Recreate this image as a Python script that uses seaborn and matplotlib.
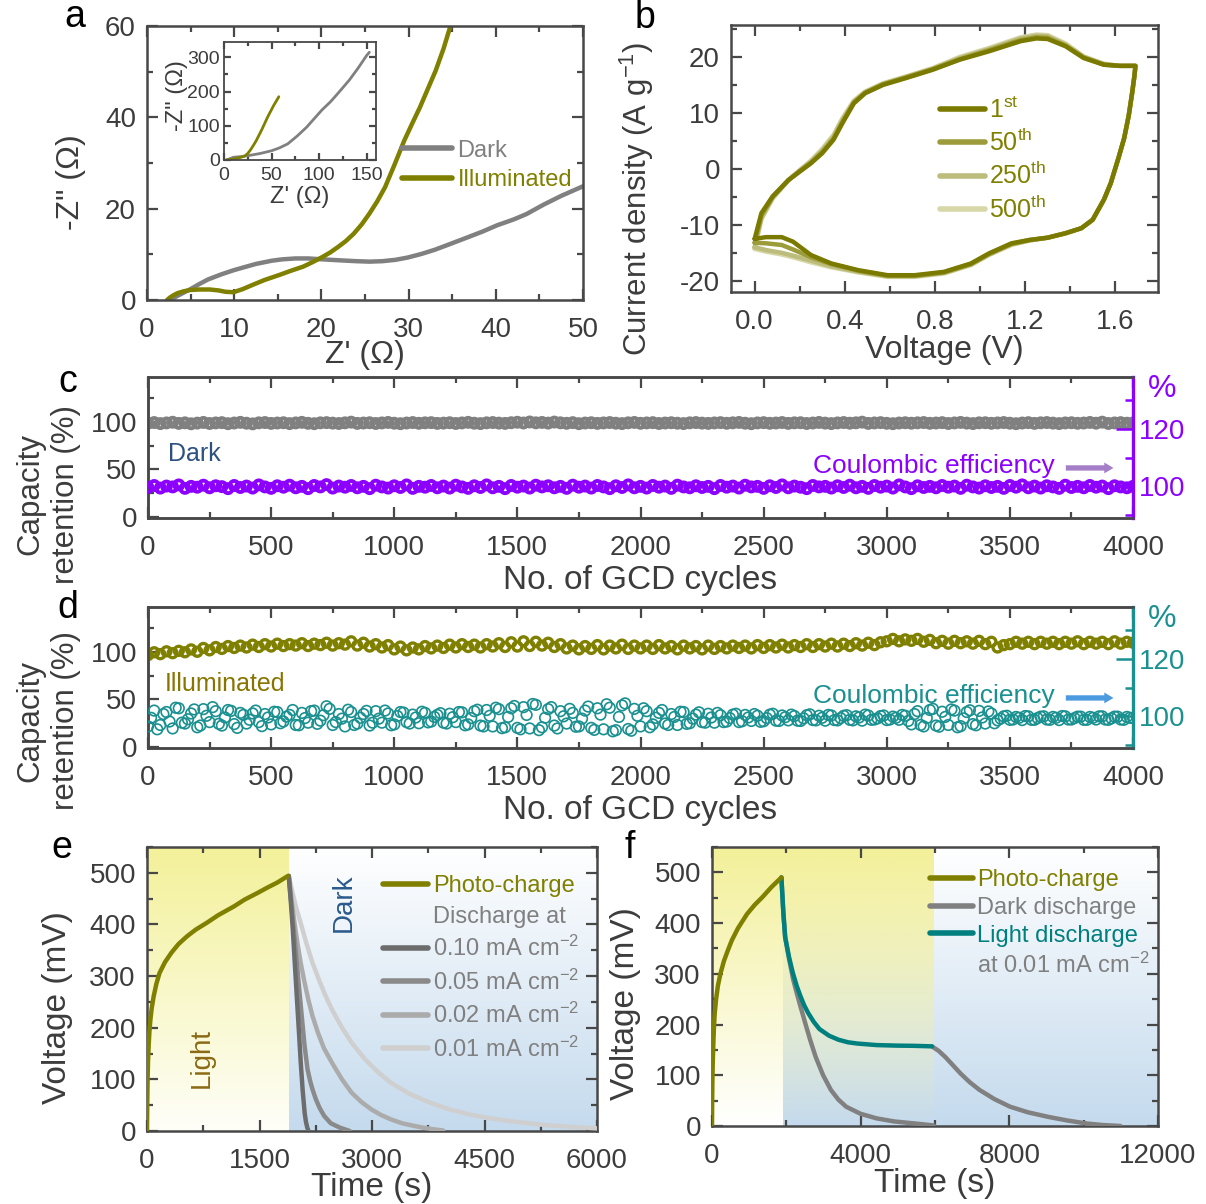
import numpy as np
import matplotlib
matplotlib.use("Agg")
import matplotlib.pyplot as plt
from matplotlib.lines import Line2D
from matplotlib.ticker import MultipleLocator
import seaborn as sns

# ---------------- data ----------------
# (a) Nyquist plots
nyq_dark_x = [2.6, 3.2, 4.0, 5.0, 6.0, 7.0, 8.5, 9.9, 11.0, 12.5, 14.3, 15.5, 17.0, 18.5, 20.1,
              22.0, 24.0, 25.5, 27.0, 28.5, 29.9, 31.5, 33.0, 34.4, 35.5, 36.6, 38.5, 40.2, 42.0,
              43.5, 45.5, 47.5, 50.0]
nyq_dark_y = [0.0, 0.6, 1.4, 2.4, 3.5, 4.5, 5.6, 6.5, 7.1, 7.9, 8.6, 8.9, 9.1, 9.1, 8.9,
              8.7, 8.5, 8.4, 8.5, 8.8, 9.3, 10.1, 11.0, 12.0, 12.8, 13.6, 15.0, 16.4, 17.6,
              18.8, 20.9, 22.8, 24.9]
nyq_ill_x = [2.3, 2.6, 3.0, 3.5, 4.2, 5.0, 6.0, 7.2, 8.2, 9.0, 9.9, 11.0, 12.1, 13.5, 15.2,
             16.5, 17.9, 19.0, 20.1, 21.0, 21.9, 22.8, 23.7, 24.6, 25.5, 26.4, 27.3, 28.4,
             29.5, 30.4, 31.3, 32.2, 33.1, 34.0, 34.8, 35.5]
nyq_ill_y = [0.0, 0.5, 1.0, 1.5, 1.9, 2.2, 2.3, 2.3, 2.1, 1.8, 1.7, 2.4, 3.3, 4.4, 5.5,
             6.4, 7.3, 8.3, 9.4, 10.4, 11.6, 12.9, 14.5, 16.5, 18.9, 21.6, 24.7, 29.7,
             34.9, 38.6, 42.2, 46.2, 50.2, 55.0, 60.0, 63.5]
ins_dark_x = [2.6, 10, 18, 26, 38, 50, 58, 67, 77, 87, 95, 103, 112, 120, 132, 141, 150, 153]
ins_dark_y = [0, 8, 10, 13, 19, 27, 35, 47, 70, 96, 121, 146, 170, 195, 234, 268, 305, 315]
ins_ill_x = [2.3, 10, 18, 22, 25, 28, 31, 34, 40, 46, 52, 57.7]
ins_ill_y = [0, 3, 8, 12, 19, 30, 43, 57, 90, 126, 158, 185]

# (b) CV loops (forward then reverse scan)
cv_volt = [0.0, 0.03, 0.08, 0.15, 0.20, 0.25, 0.30, 0.35, 0.39, 0.44, 0.49, 0.57, 0.67, 0.79,
           0.91, 1.04, 1.18, 1.25, 1.30, 1.38, 1.46, 1.55, 1.62, 1.69,
           1.69, 1.685, 1.675, 1.66, 1.64, 1.615, 1.58, 1.55, 1.50, 1.45, 1.38, 1.30, 1.22,
           1.14, 1.04, 0.96, 0.84, 0.71, 0.59, 0.46, 0.34, 0.25, 0.17, 0.12, 0.05, 0.0]
cv_1st = [-12.5, -7.9, -4.9, -2.0, -0.5, 1.0, 2.8, 5.2, 8.2, 11.7, 13.5, 15.0, 16.2, 17.7,
          19.5, 21.0, 22.8, 23.3, 23.2, 21.9, 19.8, 18.6, 18.4, 18.4,
          18.4, 16.5, 13.5, 9.5, 5.5, 2.0, -2.6, -5.5, -9.1, -10.6, -11.5, -12.3, -12.7,
          -13.3, -15.1, -16.9, -18.4, -19.0, -19.0, -18.1, -16.9, -15.4, -13.0, -12.2, -12.2, -12.5]
cv_50th = [-13.2, -8.3, -5.0, -2.0, -0.4, 1.1, 3.0, 5.4, 8.4, 11.8, 13.6, 15.1, 16.3, 17.8,
           19.6, 21.2, 23.0, 23.5, 23.4, 22.0, 19.9, 18.6, 18.4, 18.4,
           18.4, 16.5, 13.5, 9.5, 5.5, 2.0, -2.6, -5.5, -9.1, -10.6, -11.5, -12.3, -12.7,
           -13.4, -15.2, -17.0, -18.5, -19.1, -19.1, -18.2, -17.0, -15.8, -14.4, -13.6, -13.3, -13.2]
cv_250th = [-14.0, -8.8, -5.2, -2.0, -0.3, 1.3, 3.3, 5.8, 8.8, 12.0, 13.7, 15.2, 16.4, 17.9,
            19.8, 21.4, 23.3, 23.8, 23.7, 22.2, 20.0, 18.7, 18.4, 18.4,
            18.4, 16.5, 13.5, 9.5, 5.5, 2.0, -2.6, -5.5, -9.1, -10.6, -11.5, -12.3, -12.8,
            -13.5, -15.3, -17.1, -18.6, -19.2, -19.2, -18.4, -17.4, -16.4, -15.5, -15.0, -14.5, -14.0]
cv_500th = [-14.3, -9.0, -5.3, -2.0, -0.2, 1.5, 3.6, 6.1, 9.1, 12.2, 13.8, 15.3, 16.5, 18.0,
            20.0, 21.6, 23.5, 24.0, 23.9, 22.4, 20.1, 18.8, 18.4, 18.4,
            18.4, 16.5, 13.5, 9.5, 5.5, 2.0, -2.6, -5.5, -9.1, -10.6, -11.5, -12.3, -12.8,
            -13.6, -15.4, -17.2, -18.7, -19.3, -19.3, -18.5, -17.6, -16.7, -15.8, -15.3, -14.8, -14.3]
cv_labels = ["1$^{\\mathrm{st}}$", "50$^{\\mathrm{th}}$", "250$^{\\mathrm{th}}$", "500$^{\\mathrm{th}}$"]

# (c), (d) cycling, sampled every 25 cycles (plus in-between samples for the noisy CE)
cycles = list(range(0, 4001, 25))
cycles_mid = [c + 12.5 for c in range(0, 4000, 25)]
dark_ret = [
    98.4, 99.2, 98.1, 98.8, 99.5, 98.3, 98.9, 97.9, 98.6, 99.3, 98.2, 98.8, 99.1, 98.0, 98.7, 99.4,
    98.5, 97.8, 98.9, 99.2, 98.3, 98.7, 99.0, 98.1, 98.8, 99.4, 98.4, 98.0, 98.9, 99.1, 98.6, 98.2,
    98.9, 99.6, 98.3, 98.7, 99.0, 98.2, 98.8, 99.3, 98.5, 98.0, 98.7, 99.2, 98.4, 98.9, 99.1, 98.3,
    98.6, 99.0, 98.2, 98.8, 99.4, 98.5, 98.1, 98.9, 99.2, 98.6, 98.3, 99.0, 99.5, 98.7, 99.8, 98.9,
    99.3, 98.6, 99.7, 98.9, 98.4, 99.1, 98.0, 98.7, 99.0, 98.3, 98.8, 99.2, 98.5, 98.1, 98.9, 99.3,
    98.4, 98.8, 99.1, 98.2, 98.7, 99.0, 98.5, 98.1, 98.9, 99.2, 98.6, 98.3, 98.8, 99.1, 98.4, 98.9,
    99.3, 98.5, 98.0, 98.8, 99.1, 98.4, 98.7, 99.2, 98.3, 98.9, 99.0, 98.2, 98.7, 99.3, 98.6, 98.1,
    98.8, 99.2, 98.5, 98.9, 99.6, 98.3, 98.8, 99.1, 98.4, 98.0, 98.7, 99.0, 98.5, 98.9, 99.2, 98.4,
    98.7, 99.1, 98.2, 98.8, 99.3, 98.6, 98.1, 98.9, 99.0, 98.4, 98.8, 99.2, 98.5, 98.0, 98.7, 99.1,
    98.3, 98.9, 99.2, 98.6, 98.1, 98.8, 99.0, 98.4, 98.7, 99.3, 98.5, 99.6, 98.2, 98.8, 99.1, 98.5,
    98.8]
dark_ce = [
    99.6, 100.3, 99.4, 100.1, 99.8, 100.5, 99.3, 100.0, 99.7, 100.4, 99.5, 100.2, 99.9, 99.2, 100.3, 99.6,
    100.1, 99.4, 100.5, 99.8, 99.3, 100.2, 99.7, 100.4, 99.5, 100.0, 99.2, 100.3, 99.8, 100.6, 99.4, 100.1,
    99.7, 100.3, 99.5, 100.0, 99.2, 100.4, 99.8, 99.4, 100.2, 99.6, 100.5, 99.3, 100.0, 99.7, 100.3, 99.5,
    100.1, 99.4, 100.4, 99.8, 99.3, 100.2, 99.6, 100.5, 99.5, 100.0, 99.2, 100.3, 99.7, 100.1, 99.4, 100.4,
    99.8, 100.2, 99.5, 100.0, 99.3, 100.4, 99.7, 100.1, 99.4, 100.3, 99.8, 99.2, 100.2, 99.6, 100.5, 99.5,
    100.0, 99.4, 100.3, 99.7, 100.1, 99.3, 100.4, 99.8, 99.5, 100.2, 99.6, 100.0, 99.2, 100.3, 99.7, 100.1,
    99.4, 100.4, 99.8, 100.0, 99.3, 100.2, 99.6, 100.5, 99.5, 100.1, 99.7, 99.2, 100.3, 99.8, 100.0, 99.4,
    100.2, 99.6, 100.4, 99.5, 100.0, 99.3, 100.3, 99.7, 100.1, 99.4, 100.5, 99.8, 99.2, 100.2, 99.6, 100.0,
    99.5, 100.3, 99.7, 100.1, 99.3, 100.4, 99.8, 99.4, 100.2, 99.6, 100.0, 99.3, 100.3, 99.7, 100.5, 99.5,
    100.1, 99.4, 100.2, 99.8, 99.3, 100.4, 99.6, 100.0, 99.5, 100.3, 99.7, 100.1, 99.2, 100.2, 99.8, 99.5,
    100.0]
ill_ret = [
    96.5, 99.5, 97.5, 100.5, 98.5, 101.0, 99.5, 102.5, 100.0, 104.0, 101.5, 105.0, 103.0, 106.0, 104.0, 106.5,
    104.5, 107.5, 105.0, 108.0, 105.5, 108.5, 106.0, 108.0, 106.5, 109.0, 106.0, 108.5, 107.0, 109.5, 106.5, 109.0,
    107.5, 111.0, 106.5, 109.5, 105.5, 108.0, 104.5, 107.0, 102.5, 105.5, 101.5, 104.5, 102.5, 106.0, 103.5, 106.5,
    104.0, 107.5, 104.5, 108.0, 105.0, 107.5, 104.5, 108.0, 105.5, 109.0, 105.0, 110.0, 105.5, 111.0, 106.0, 110.5,
    106.5, 109.5, 105.0, 108.0, 103.5, 106.5, 102.5, 106.0, 103.0, 107.0, 102.5, 106.5, 103.5, 107.5, 103.0, 106.5,
    103.5, 106.5, 103.0, 107.0, 103.5, 106.0, 102.5, 106.5, 103.5, 106.0, 102.5, 106.5, 103.0, 106.0, 103.5, 106.5,
    104.0, 106.5, 103.5, 107.0, 104.0, 107.0, 104.5, 107.5, 104.5, 107.0, 105.0, 108.0, 105.0, 108.0, 105.5, 108.5,
    105.5, 108.5, 106.0, 109.0, 106.5, 109.5, 107.0, 110.0, 111.0, 113.5, 111.0, 113.0, 111.5, 113.5, 110.5, 112.5,
    109.0, 111.5, 108.5, 111.5, 109.0, 111.0, 108.5, 111.5, 108.0, 110.5, 104.5, 107.0, 108.0, 110.5, 108.5, 110.5,
    108.0, 110.5, 108.5, 110.5, 108.0, 110.5, 108.5, 111.0, 108.0, 110.5, 108.5, 110.5, 108.0, 111.0, 108.5, 110.5,
    109.5]
ill_ce = [
    96.5, 102.0, 97.0, 101.5, 95.8, 102.8, 97.5, 101.0, 96.2, 102.5, 98.0, 101.8, 96.8, 102.2, 97.3, 101.2,
    97.5, 101.0, 98.0, 100.8, 97.2, 101.5, 98.2, 100.5, 97.0, 101.2, 97.8, 102.0, 98.5, 103.5, 97.0, 100.8,
    96.5, 101.5, 97.5, 100.8, 96.8, 101.8, 97.8, 101.0, 97.2, 101.5, 98.0, 100.6, 97.6, 101.2, 98.2, 100.5,
    97.8, 100.9, 98.0, 101.4, 97.2, 101.8, 96.8, 102.2, 96.5, 102.5, 96.2, 102.8, 96.0, 103.2, 95.8, 104.0,
    96.2, 102.5, 96.8, 101.8, 97.5, 101.2, 96.5, 102.0, 96.0, 102.8, 95.5, 103.0, 95.2, 103.8, 95.6, 102.6,
    96.5, 101.8, 97.2, 101.2, 97.5, 100.8, 97.0, 101.5, 97.6, 100.6, 98.0, 100.9, 97.8, 100.4, 98.2, 100.6,
    98.0, 100.5, 98.4, 100.2, 98.3, 100.6, 98.5, 100.3, 98.6, 100.1, 98.4, 100.4, 98.7, 100.2, 98.5, 100.3,
    98.6, 100.2, 98.8, 100.0, 98.5, 100.3, 98.9, 100.1, 98.7, 99.9, 98.8, 100.2, 97.2, 101.8, 96.5, 102.2,
    96.8, 101.6, 97.0, 102.0, 96.6, 101.5, 97.3, 101.9, 97.5, 101.0, 98.6, 100.0, 98.8, 99.8, 98.7, 100.0,
    98.8, 99.9, 98.9, 99.8, 98.7, 100.0, 98.9, 99.9, 98.8, 99.8, 98.9, 100.0, 98.8, 99.9, 98.9, 99.8,
    99.4]
ill_ce_mid = [
    99.5, 95.5, 100.8, 98.2, 103.0, 97.8, 99.0, 102.4, 96.8, 100.2, 103.2, 97.4, 99.6, 101.9, 96.0, 100.5,
    98.8, 102.0, 96.6, 99.6, 101.6, 97.6, 99.9, 102.2, 96.9, 99.4, 101.8, 97.4, 100.4, 102.6, 98.0, 99.2,
    102.3, 97.0, 99.5, 101.9, 97.8, 99.2, 102.0, 96.9, 100.1, 101.3, 97.5, 99.6, 101.6, 97.9, 99.8, 101.1,
    97.5, 99.7, 101.5, 96.9, 99.4, 102.3, 96.5, 100.2, 103.0, 95.9, 99.8, 103.6, 95.5, 100.5, 104.3, 95.2,
    99.5, 103.2, 95.8, 100.0, 102.6, 96.4, 99.2, 103.4, 95.3, 100.6, 104.2, 94.8, 99.8, 104.5, 95.0, 100.2,
    102.8, 96.2, 99.5, 102.2, 97.0, 99.8, 101.6, 97.4, 99.2, 101.4, 97.8, 99.6, 101.2, 98.0, 99.4, 100.9,
    98.3, 99.6, 100.8, 98.1, 99.4, 100.9, 98.4, 99.7, 100.6, 98.5, 99.3, 100.7, 98.6, 99.5, 100.5, 98.7,
    99.4, 100.4, 98.6, 99.6, 100.6, 98.8, 99.3, 100.3, 98.9, 99.5, 100.5, 98.4, 100.8, 97.0, 99.4, 102.6,
    96.4, 99.8, 102.4, 96.2, 99.3, 102.1, 96.9, 99.6, 101.7, 97.6, 99.2, 100.2, 98.9, 99.5, 100.1, 98.8,
    99.4, 100.0, 98.8, 99.5, 100.1, 98.9, 99.4, 99.9, 98.8, 99.5, 100.0, 98.9, 99.3, 99.9, 98.8, 99.5]

# (e) photo-charge and dark discharge at different currents
e_chg_t = [0, 4, 8, 14, 22, 32, 45, 62, 89, 125, 167, 240, 324, 420, 533, 650, 795, 950,
           1160, 1300, 1474, 1600, 1735, 1880]
e_chg_v = [0, 60, 100, 135, 165, 192, 215, 237, 261, 285, 306, 327, 345, 362, 377, 390, 403, 418,
           435, 448, 461, 471, 481, 494]
e_d010_t = [1890, 1917, 1944, 1970, 1997, 2024, 2050, 2076, 2102, 2120, 2138, 2154]
e_d010_v = [494, 445, 390, 326, 261, 196, 132, 78, 35, 17, 6, 0]
e_d005_t = [1890, 1940, 1997, 2050, 2101, 2140, 2175, 2206, 2250, 2300, 2363, 2450, 2572, 2703]
e_d005_v = [494, 415, 326, 243, 165, 120, 97, 81, 62, 45, 29, 15, 6.5, 0]
e_d002_t = [1890, 1930, 1970, 2010, 2049, 2100, 2150, 2206, 2280, 2360, 2467, 2600, 2729, 2860,
            2990, 3120, 3251, 3400, 3565, 3700, 3826, 3950]
e_d002_v = [494, 445, 400, 360, 326, 288, 255, 223, 190, 160, 132, 100, 74, 56,
            42, 31, 22.6, 15, 9.7, 6, 3.2, 1]
e_d001_t = [1890, 1940, 1990, 2049, 2120, 2206, 2300, 2380, 2467, 2600, 2729, 2900, 3080, 3251,
            3500, 3774, 4030, 4297, 4560, 4820, 5080, 5342, 5700, 6000]
e_d001_v = [494, 462, 432, 403, 366, 326, 290, 262, 235, 200, 171, 140, 114, 93.5,
            72, 54.8, 42, 32, 25, 19.4, 15, 11, 7.5, 5]
e_labels = ["Photo-charge", "Discharge at", "0.10 mA cm$^{-2}$", "0.05 mA cm$^{-2}$",
            "0.02 mA cm$^{-2}$", "0.01 mA cm$^{-2}$"]

# (f) dark vs light discharge at 0.01 mA cm-2
f_chg_t = [0, 5, 10, 20, 35, 50, 72, 110, 160, 226, 320, 420, 533, 700, 944, 1150, 1354, 1600, 1867]
f_chg_v = [0, 50, 85, 123, 160, 190, 221, 250, 277, 300, 325, 345, 366, 390, 418, 436, 451, 471, 490]
f_dark_t = [1867, 1920, 1969, 2072, 2180, 2280, 2379, 2500, 2640, 2790, 2990, 3200, 3400, 3610,
            4000, 4431, 4900, 5456, 5969]
f_dark_v = [490, 420, 372, 330, 290, 262, 236, 205, 170, 136, 100, 71, 52, 38,
            24, 15, 9, 5, 1]
f_light_t = [1867, 1920, 1969, 2072, 2174, 2280, 2379, 2480, 2585, 2740, 2892, 3150, 3405, 3660,
             3918, 4431, 4950, 5456, 5918]
f_light_v = [490, 420, 372, 333, 302, 276, 256, 238, 223, 205, 191, 178, 170, 165,
             162.5, 159.5, 158.5, 158, 157]
f_after_t = [5918, 6100, 6277, 6480, 6687, 6940, 7200, 7600, 8021, 8500, 9046, 9550, 10072, 10500, 10995]
f_after_v = [157, 148, 136, 120, 103.5, 86, 71, 53, 38, 27, 18, 11, 5, 2, 0]
f_labels = ["Photo-charge", "Dark discharge", "Light discharge", "at 0.01 mA cm$^{-2}$"]

# ---------------- style ----------------
OLIVE = "#808000"
GRAY = "#808080"
PURPLE = "#8B00FF"
TEAL = "#1a9090"
TEAL_LINE = "#007f7f"
INK = "#3c3c3c"
SPINE = "#484848"

sns.set_theme(style="ticks")
plt.rcParams["font.family"] = ["Liberation Sans", "DejaVu Sans"]
plt.rcParams["mathtext.fontset"] = "custom"
plt.rcParams["mathtext.rm"] = "Liberation Sans"
plt.rcParams["mathtext.it"] = "Liberation Sans:italic"
plt.rcParams["axes.unicode_minus"] = False

fig = plt.figure(figsize=(12.06, 12.04), dpi=100)


def rect(l, t, r, b):
    return [l / 1206, 1 - b / 1204, (r - l) / 1206, (b - t) / 1204]


def style_axes(ax, xmaj, xmin, ymaj, ymin, right=True, size=20):
    ax.xaxis.set_major_locator(MultipleLocator(xmaj))
    ax.xaxis.set_minor_locator(MultipleLocator(xmin))
    ax.yaxis.set_major_locator(MultipleLocator(ymaj))
    ax.yaxis.set_minor_locator(MultipleLocator(ymin))
    ax.tick_params(which="both", direction="in", top=True, right=right, color=SPINE,
                   width=1.6, labelsize=size, labelcolor=INK, pad=8)
    ax.tick_params(axis="x", which="both", pad=12)
    ax.tick_params(which="major", length=8)
    ax.tick_params(which="minor", length=4)
    for s in ax.spines.values():
        s.set_linewidth(1.8)
        s.set_color(SPINE)


def color_legend(leg, colors):
    for t, c in zip(leg.get_texts(), colors):
        t.set_color(c)


def vgrad(ax, x0, x1, top, bot, y0=0, y1=550):
    g = np.linspace(0, 1, 256)[:, None, None]
    arr = np.array(top)[None, None, :] * (1 - g) + np.array(bot)[None, None, :] * g
    ax.imshow(arr, extent=[x0, x1, y0, y1], origin="upper", aspect="auto",
              zorder=0, interpolation="bicubic")


# ---------------- (a) ----------------
ax_a = fig.add_axes(rect(147, 26, 583, 300))
sns.lineplot(x=nyq_dark_x, y=nyq_dark_y, ax=ax_a, color=GRAY, lw=3.2, sort=False)
sns.lineplot(x=nyq_ill_x, y=nyq_ill_y, ax=ax_a, color=OLIVE, lw=3.2, sort=False)
ax_a.set_xlim(0, 50)
ax_a.set_ylim(0, 60)
style_axes(ax_a, 10, 5, 20, 10)
ax_a.set_xlabel("Z' (Ω)", fontsize=23, color=INK)
ax_a.set_ylabel('-Z" (Ω)', fontsize=23, color=INK)
ax_a.xaxis.set_label_coords(0.5, -0.145)
ax_a.yaxis.set_label_coords(-0.14, 0.43)
leg = ax_a.legend([Line2D([], [], color=GRAY, lw=4), Line2D([], [], color=OLIVE, lw=4)],
                  ["Dark", "Illuminated"], loc="upper left", bbox_to_anchor=(0.585, 0.585),
                  frameon=False, fontsize=17, handlelength=2.1, handletextpad=0.25,
                  labelspacing=0.3, borderpad=0, borderaxespad=0)
color_legend(leg, [GRAY, OLIVE])

ax_in = fig.add_axes(rect(224, 42, 376, 160))
sns.lineplot(x=ins_dark_x, y=ins_dark_y, ax=ax_in, color=GRAY, lw=2, sort=False)
sns.lineplot(x=ins_ill_x, y=ins_ill_y, ax=ax_in, color=OLIVE, lw=2, sort=False)
ax_in.set_xlim(0, 160)
ax_in.set_ylim(0, 345)
style_axes(ax_in, 50, 25, 100, 50, size=14)
ax_in.tick_params(which="both", pad=3)
ax_in.tick_params(axis="x", which="both", pad=5)
ax_in.tick_params(which="major", length=5)
ax_in.tick_params(which="minor", length=3)
for s in ax_in.spines.values():
    s.set_linewidth(1.3)
ax_in.set_xlabel("Z' (Ω)", fontsize=17, color=INK)
ax_in.set_ylabel('-Z" (Ω)', fontsize=17, color=INK)
ax_in.xaxis.set_label_coords(0.5, -0.22)
ax_in.yaxis.set_label_coords(-0.24, 0.55)

# ---------------- (b) ----------------
ax_b = fig.add_axes(rect(731, 25, 1158, 292))
cv_colors = ["#7a7a00", "#9c9c3a", "#bcbc7c", "#d7d7a8"]
for cur, col in zip([cv_500th, cv_250th, cv_50th, cv_1st], cv_colors[::-1]):
    sns.lineplot(x=cv_volt, y=cur, ax=ax_b, color=col, lw=3.2, sort=False, estimator=None)
ax_b.set_xlim(-0.105, 1.79)
ax_b.set_ylim(-22, 25.7)
style_axes(ax_b, 0.4, 0.2, 10, 5)
ax_b.set_xlabel("Voltage (V)", fontsize=23, color=INK)
ax_b.set_ylabel("Current density (A g$^{-1}$)", fontsize=22.5, color=INK)
ax_b.xaxis.set_label_coords(0.5, -0.16)
ax_b.yaxis.set_label_coords(-0.175, 0.35)
leg = ax_b.legend([Line2D([], [], color=c, lw=4) for c in cv_colors], cv_labels,
                  loc="upper left", bbox_to_anchor=(0.49, 0.73), frameon=False, fontsize=18,
                  handlelength=1.8, handletextpad=0.15, labelspacing=0.25, borderpad=0,
                  borderaxespad=0)
color_legend(leg, [OLIVE] * 4)


# ---------------- (c), (d) ----------------
def cycling_panel(top, bottom, ret, ret_col, ret_lw, ce_sets, ce_col, ce_lw, ce_s,
                  arrow_col, name, name_col, name_x):
    ax = fig.add_axes(rect(148, top, 1133, bottom))
    sns.scatterplot(x=cycles, y=ret, ax=ax, marker="o", s=42, facecolor="none",
                    edgecolor=ret_col, linewidth=ret_lw, zorder=3)
    ax.set_xlim(0, 4000)
    ax.set_ylim(-1, 147)
    style_axes(ax, 500, 250, 50, 25, right=False)
    ax.set_xlabel("No. of GCD cycles", fontsize=24, color=INK)
    ax.xaxis.set_label_coords(0.5, -0.33)
    ax2 = ax.twinx()
    for xs, ys in ce_sets:
        sns.scatterplot(x=xs, y=ys, ax=ax2, marker="o", s=ce_s, facecolor="none",
                        edgecolor=ce_col, linewidth=ce_lw, zorder=3)
    ax2.set_ylim(89, 138)
    ax2.yaxis.set_major_locator(MultipleLocator(20))
    ax2.yaxis.set_minor_locator(MultipleLocator(10))
    ax2.tick_params(which="both", direction="in", color=ce_col, width=1.8,
                    labelsize=20, labelcolor=ce_col, pad=4)
    ax2.tick_params(which="major", length=12)
    ax2.tick_params(which="minor", length=6)
    for s in ax2.spines.values():
        s.set_linewidth(1.8)
        s.set_color(SPINE)
    ax2.spines["right"].set_color(ce_col)
    ax2.spines["right"].set_linewidth(2.4)
    ax2.set_ylabel("")
    ax.text(1.03, 1.02, "%", transform=ax.transAxes, fontsize=23, color=ce_col,
            ha="center", va="top")
    ax.text(name_x, 66, name, fontsize=18, color=name_col, ha="left", va="center")
    ax.text(0.921, 0.37, "Coulombic efficiency", transform=ax.transAxes, fontsize=19,
            color=ce_col, ha="right", va="center")
    ax.annotate("", xy=(0.983, 0.355), xytext=(0.929, 0.355), xycoords="axes fraction",
                arrowprops=dict(arrowstyle="simple,head_length=0.55,head_width=0.65,tail_width=0.32",
                                color=arrow_col, lw=0))
    return ax


cycling_panel(377, 518, dark_ret, GRAY, 2.8, [(cycles, dark_ce)], PURPLE, 2.8, 42,
              "#a47fc8", "Dark", "#2d5280", 80)
cycling_panel(607, 748, ill_ret, OLIVE, 2.4, [(cycles, ill_ce), (cycles_mid, ill_ce_mid)],
              TEAL, 1.2, 58, "#4c9be0", "Illuminated", "#8a7400", 70)
for ycen in (494, 721):
    fig.text(48 / 1206, 1 - ycen / 1204, "Capacity\nretention (%)", rotation=90, fontsize=22.5,
             color=INK, ha="center", va="center", multialignment="center", linespacing=1.25)

# ---------------- (e) ----------------
ax_e = fig.add_axes(rect(147, 847, 597, 1131))
vgrad(ax_e, 0, 1890, (0.953, 0.945, 0.60, 1), (0.997, 0.997, 0.975, 1))
vgrad(ax_e, 1890, 6000, (1, 1, 1, 1), (0.77, 0.855, 0.93, 1))
dis_colors = ["#6c6c6c", "#8a8a8a", "#ababab", "#cfcfcf"]
for t, v, c in zip([e_d001_t, e_d002_t, e_d005_t, e_d010_t],
                   [e_d001_v, e_d002_v, e_d005_v, e_d010_v], dis_colors[::-1]):
    sns.lineplot(x=t, y=v, ax=ax_e, color=c, lw=3.2, sort=False, zorder=3)
sns.lineplot(x=e_chg_t, y=e_chg_v, ax=ax_e, color=OLIVE, lw=3.2, sort=False, zorder=4)
ax_e.set_xlim(0, 6000)
ax_e.set_ylim(0, 550)
style_axes(ax_e, 1500, 750, 100, 50)
ax_e.set_xlabel("Time (s)", fontsize=24, color=INK)
ax_e.set_ylabel("Voltage (mV)", fontsize=24, color=INK)
ax_e.xaxis.set_label_coords(0.5, -0.145)
ax_e.yaxis.set_label_coords(-0.164, 0.433)
ax_e.text(733, 141, "Light", rotation=90, fontsize=20, color="#8b6a14", ha="center", va="center")
ax_e.text(2627, 442, "Dark", rotation=90, fontsize=20, color="#2a5a8c", ha="center", va="center")
handles = [Line2D([], [], color=OLIVE, lw=4), Line2D([], [], alpha=0)] + \
          [Line2D([], [], color=c, lw=4) for c in dis_colors]
leg = ax_e.legend(handles, e_labels, loc="upper left", bbox_to_anchor=(0.525, 0.9),
                  frameon=False, fontsize=17, handlelength=1.9, handletextpad=0.2,
                  labelspacing=0.35, borderpad=0, borderaxespad=0)
color_legend(leg, [OLIVE] + [GRAY] * 5)

# ---------------- (f) ----------------
ax_f = fig.add_axes(rect(712, 847, 1158, 1126))
vgrad(ax_f, 1900, 12000, (0.77, 0.855, 0.93, 0), (0.77, 0.855, 0.93, 1))
vgrad(ax_f, 0, 5950, (0.953, 0.945, 0.60, 1), (0.953, 0.945, 0.60, 0))
sns.lineplot(x=f_dark_t, y=f_dark_v, ax=ax_f, color=GRAY, lw=3.2, sort=False, zorder=3)
sns.lineplot(x=f_after_t, y=f_after_v, ax=ax_f, color=GRAY, lw=3.2, sort=False, zorder=3)
sns.lineplot(x=f_light_t, y=f_light_v, ax=ax_f, color=TEAL_LINE, lw=3.2, sort=False, zorder=4)
sns.lineplot(x=f_chg_t, y=f_chg_v, ax=ax_f, color=OLIVE, lw=3.2, sort=False, zorder=5)
ax_f.set_xlim(0, 12000)
ax_f.set_ylim(0, 550)
style_axes(ax_f, 4000, 2000, 100, 50)
ax_f.set_xlabel("Time (s)", fontsize=24, color=INK)
ax_f.set_ylabel("Voltage (mV)", fontsize=24, color=INK)
ax_f.xaxis.set_label_coords(0.5, -0.15)
ax_f.yaxis.set_label_coords(-0.159, 0.44)
handles = [Line2D([], [], color=OLIVE, lw=4), Line2D([], [], color=GRAY, lw=4),
           Line2D([], [], color=TEAL_LINE, lw=4), Line2D([], [], alpha=0)]
leg = ax_f.legend(handles, f_labels, loc="upper left", bbox_to_anchor=(0.489, 0.92),
                  frameon=False, fontsize=17, handlelength=1.8, handletextpad=0.2,
                  labelspacing=0.24, borderpad=0, borderaxespad=0)
color_legend(leg, [OLIVE, GRAY, TEAL_LINE, GRAY])

# panel letters
for letter, (px, py) in zip("abcdef", [(75, 17), (645, 18), (68, 382), (68, 608), (62, 848), (630, 848)]):
    fig.text(px / 1206, 1 - py / 1204, letter, fontsize=27, color="black", ha="center", va="center")

fig.savefig("out.png", dpi=100)
